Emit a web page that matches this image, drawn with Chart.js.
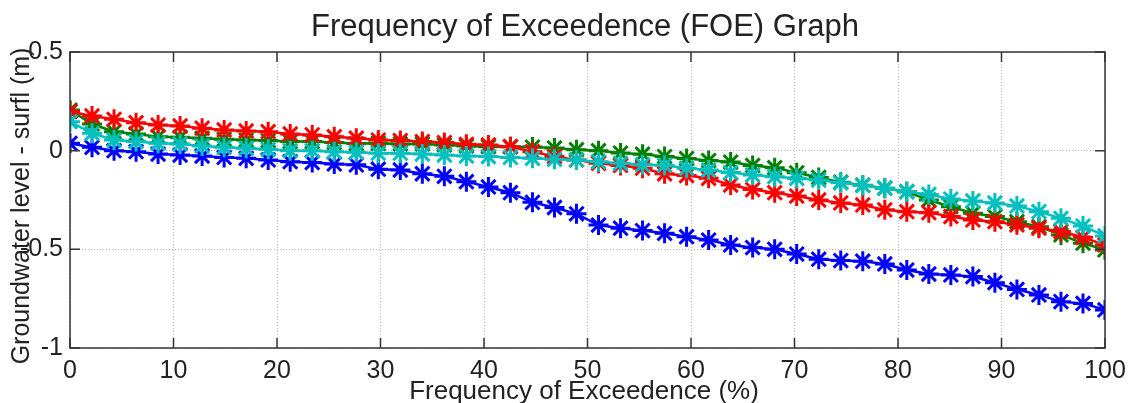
<!DOCTYPE html>
<html>
<head>
<meta charset="utf-8">
<script src="https://cdn.jsdelivr.net/npm/chart.js@4"></script>
<style>
  html, body { margin: 0; padding: 0; background: #fff; }
  #wrap { width: 1129px; height: 403px; }
</style>
</head>
<body>
<div id="wrap"><canvas id="foeChart" width="1129" height="403"></canvas></div>
<script>
// exceedence positions: 48 ranked values, 0..100 %
var nPoints = 48;
var foe = [];
for (var i = 0; i < nPoints; i++) foe.push(i * 100 / (nPoints - 1));

var xTicks = [0, 10, 20, 30, 40, 50, 60, 70, 80, 90, 100];
var yTicks = [0.5, 0, -0.5, -1];

var blueLevels = [0.037, 0.017, 0.0, -0.005, -0.017, -0.022, -0.027, -0.034, -0.039, -0.047,
  -0.056, -0.06, -0.067, -0.072, -0.094, -0.098, -0.117, -0.13, -0.157, -0.184,
  -0.213, -0.262, -0.288, -0.32, -0.377, -0.393, -0.405, -0.419, -0.436, -0.453,
  -0.478, -0.491, -0.50, -0.524, -0.55, -0.557, -0.56, -0.574, -0.605, -0.625,
  -0.63, -0.638, -0.669, -0.703, -0.731, -0.765, -0.774, -0.807];

var redLevels = [0.198, 0.176, 0.159, 0.142, 0.130, 0.125, 0.114, 0.105, 0.10, 0.096,
  0.085, 0.08, 0.071, 0.063, 0.054, 0.051, 0.046, 0.041, 0.032, 0.029,
  0.02, -0.005, -0.03, -0.047, -0.064, -0.075, -0.089, -0.117, -0.126, -0.14,
  -0.174, -0.197, -0.213, -0.23, -0.25, -0.265, -0.275, -0.30, -0.309, -0.314,
  -0.334, -0.351, -0.36, -0.376, -0.393, -0.41, -0.439, -0.478];

var greenLevels = [0.206, 0.135, 0.096, 0.085, 0.071, 0.068, 0.063, 0.058, 0.054, 0.051,
  0.046, 0.046, 0.041, 0.036, 0.037, 0.034, 0.034, 0.029, 0.024, 0.02,
  0.02, 0.018, 0.014, 0.005, 0.0, -0.012, -0.018, -0.03, -0.04, -0.05,
  -0.058, -0.075, -0.086, -0.112, -0.136, -0.16, -0.175, -0.19, -0.208, -0.25,
  -0.284, -0.317, -0.334, -0.36, -0.385, -0.427, -0.469, -0.503];

var cyanLevels = [0.147, 0.088, 0.054, 0.046, 0.037, 0.034, 0.024, 0.017, 0.012, 0.007,
  0.0, 0.0, -0.005, -0.008, -0.013, -0.013, -0.017, -0.022, -0.027, -0.03,
  -0.034, -0.039, -0.044, -0.047, -0.056, -0.064, -0.072, -0.074, -0.089, -0.098,
  -0.111, -0.123, -0.132, -0.14, -0.149, -0.163, -0.176, -0.19, -0.208, -0.222,
  -0.245, -0.255, -0.265, -0.28, -0.309, -0.343, -0.382, -0.432];

var fontFam = '"Liberation Sans", Arial, sans-serif';

function toPoints(levels) {
  return levels.map(function(v, i) { return { x: foe[i], y: v }; });
}

function series(label, levels, color, order) {
  return {
    label: label,
    data: toPoints(levels),
    borderColor: color,
    backgroundColor: color,
    borderWidth: 2.5,
    pointStyle: 'star',
    pointRadius: 10,
    pointBorderWidth: 3,
    pointBorderColor: color,
    pointHoverRadius: 10,
    tension: 0,
    order: order
  };
}

// matlab-ish box, inward ticks and axis labels
var matlabAxes = {
  id: 'matlabAxes',
  afterDraw: function(chart) {
    var ctx = chart.ctx;
    var a = chart.chartArea;
    var xs = chart.scales.x, ys = chart.scales.y;
    ctx.save();
    ctx.strokeStyle = '#333';
    ctx.lineWidth = 1.5;
    ctx.strokeRect(a.left, a.top, a.right - a.left, a.bottom - a.top);
    ctx.beginPath();
    xTicks.forEach(function(t) {
      var px = xs.getPixelForValue(t);
      ctx.moveTo(px, a.bottom); ctx.lineTo(px, a.bottom - 10);
      ctx.moveTo(px, a.top); ctx.lineTo(px, a.top + 10);
    });
    yTicks.forEach(function(t) {
      var py = ys.getPixelForValue(t);
      ctx.moveTo(a.left, py); ctx.lineTo(a.left + 10, py);
      ctx.moveTo(a.right, py); ctx.lineTo(a.right - 10, py);
    });
    ctx.stroke();

    ctx.fillStyle = '#222';
    ctx.textAlign = 'center';
    ctx.textBaseline = 'middle';
    ctx.font = '31px ' + fontFam;
    ctx.fillText('Frequency of Exceedence (FOE) Graph', 585, 27);

    ctx.font = '26px ' + fontFam;
    ctx.fillText('Frequency of Exceedence (%)', 584, 392);

    ctx.translate(22, 206);
    ctx.rotate(-Math.PI / 2);
    ctx.font = '25px ' + fontFam;
    ctx.fillText('Groundwater level - surfl (m)', 0, 0);
    ctx.restore();
  }
};

document.addEventListener('DOMContentLoaded', function() {
  new Chart('foeChart', {
    type: 'line',
    data: {
      datasets: [
        series('Series 1', blueLevels, '#0000ff', 4),
        series('Series 2', greenLevels, '#008000', 3),
        series('Series 3', redLevels, '#ff0000', 2),
        series('Series 4', cyanLevels, '#00bfbf', 1)
      ]
    },
    options: {
      responsive: false,
      animation: false,
      layout: { padding: { left: 0, right: 24, top: 52, bottom: 0 } },
      plugins: {
        legend: { display: false },
        tooltip: { enabled: false },
        title: { display: false }
      },
      scales: {
        x: {
          type: 'linear',
          min: 0,
          max: 100,
          afterBuildTicks: function(scale) {
            scale.ticks = xTicks.map(function(v) { return { value: v }; });
          },
          afterFit: function(scale) {
            scale.height = 55;
            scale.paddingRight = 0;
            scale.paddingLeft = 0;
          },
          grid: { color: '#c0c0c0', lineWidth: 1, drawTicks: false },
          border: { display: false, dash: [1, 2] },
          ticks: {
            color: '#222',
            padding: 8,
            maxRotation: 0,
            font: { family: fontFam, size: 25 }
          }
        },
        y: {
          type: 'linear',
          min: -1,
          max: 0.5,
          afterBuildTicks: function(scale) {
            scale.ticks = yTicks.map(function(v) { return { value: v }; });
          },
          afterFit: function(scale) {
            scale.width = 70;
            scale.paddingTop = 0;
            scale.paddingBottom = 0;
          },
          grid: { color: '#c0c0c0', lineWidth: 1, drawTicks: false },
          border: { display: false, dash: [1, 2] },
          ticks: {
            color: '#222',
            padding: 7,
            font: { family: fontFam, size: 25 },
            callback: function(v) { return String(v); }
          }
        }
      }
    },
    plugins: [matlabAxes]
  });
});
</script>
</body>
</html>
